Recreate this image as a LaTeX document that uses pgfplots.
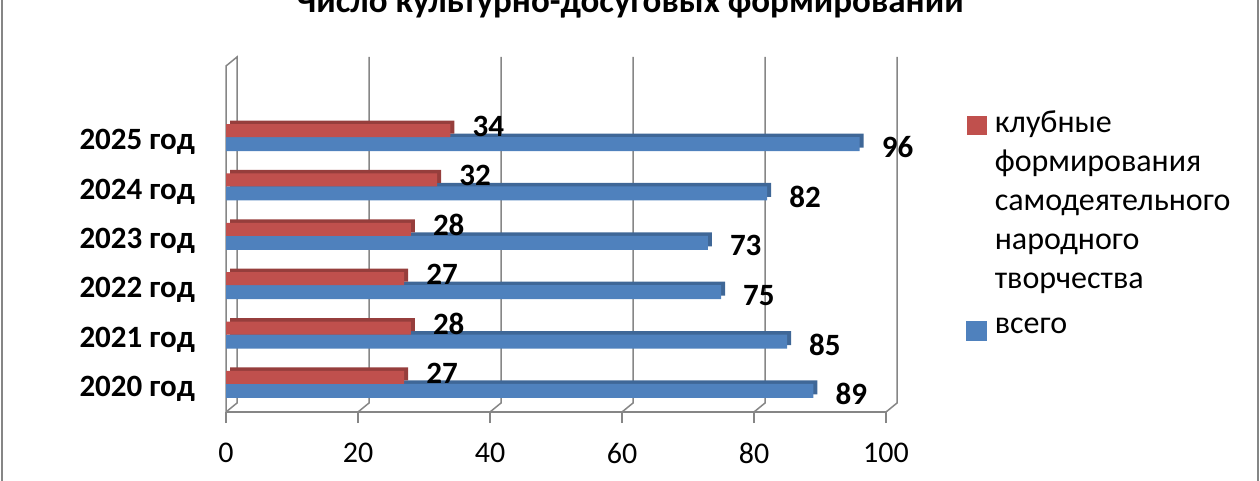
\documentclass[border=0pt]{standalone}
\usepackage{pgfplots}
\pgfplotsset{compat=1.18}
\usepackage{fontspec}
\setmainfont{Carlito}
\definecolor{xred}{HTML}{C0504D}
\definecolor{xblue}{HTML}{4F81BD}
\definecolor{xgrid}{HTML}{868686}
\begin{document}
\begin{tikzpicture}[x=1pt,y=1pt]
\path[use as bounding box] (0,0) rectangle (1260,480);
\draw[xgrid, line width=2pt] (1.5,-5) -- (1.5,485);
\draw[xgrid, line width=2pt] (1257.5,-5) -- (1257.5,485);
\node[font=\fontsize{35}{40}\selectfont\bfseries, anchor=base] at (630,467) {Число культурно-досуговых формирований};
\begin{axis}[
  at={(226pt,68pt)}, anchor=south west,
  width=660pt, height=346pt, scale only axis,
  xmin=0, xmax=100, ymin=-0.466, ymax=6.54,
  xtick={0,20,...,100},
  ytick={0,1,2,3,4,5},
  yticklabels={2020 год,2021 год,2022 год,2023 год,2024 год,2025 год},
  axis line style={draw=none},
  tick pos=left, tick align=outside, major tick length=11pt,
  x tick style={xgrid, line width=1.5pt},
  y tick style={draw=none},
  /pgf/number format/assume math mode=true,
  xticklabel style={font=\fontsize{30}{36}\selectfont, inner sep=0pt, yshift=-20pt},
  yticklabel style={font=\fontsize{31}{36}\selectfont\bfseries, inner sep=0pt, xshift=-20pt},
  clip=false,
  legend style={at={(axis description cs:1.117,0.890)}, anchor=north west, draw=none, fill=none,
    font=\fontsize{32}{39}\selectfont, legend cell align=left, row sep=0pt,
    nodes={inner ysep=0pt, text height=26pt, text depth=13pt},
    /tikz/every odd column/.append style={column sep=6pt}},
]
\draw[xgrid, line width=1.5pt] (axis cs:0,-0.466) -- (axis cs:100,-0.466);
\draw[xgrid, line width=1.5pt] (axis cs:0,-0.466) -- (axis cs:0,6.54) -- ++(11pt,9pt) -- ([xshift=11pt,yshift=9pt]axis cs:0,-0.466) -- cycle;
\pgfplotsinvokeforeach{20,40,60,80,100}{
  \draw[xgrid, line width=1.5pt] (axis cs:#1,-0.466) -- ++(11pt,9pt) -- ([xshift=11pt,yshift=9pt]axis cs:#1,6.54);
}
% blue: depth faces, then front
\addplot[xbar, forget plot, fill=xblue!80!black, draw=none, bar width=14pt, bar shift=-2pt, xshift=4pt, yshift=3.5pt]
  coordinates {(89,0) (85,1) (75,2) (73,3) (82,4) (96,5)};
\addplot[xbar, forget plot, fill=xblue, draw=none, bar width=14pt, bar shift=-2pt,
  nodes near coords, every node near coord/.append style={font=\fontsize{31}{36}\selectfont\bfseries, anchor=west, inner sep=0pt, xshift=22pt, yshift=-5pt}]
  coordinates {(89,0) (85,1) (75,2) (73,3) (82,4) (96,5)};
% red: depth faces, then front
\addplot[xbar, forget plot, fill=xred!78!black, draw=none, bar width=13pt, bar shift=11.5pt, xshift=4pt, yshift=3.5pt]
  coordinates {(27,0) (28,1) (27,2) (28,3) (32,4) (34,5)};
\addplot[xbar, fill=xred, draw=none, bar width=13pt, bar shift=11.5pt,
  legend image code/.code={\fill[xred] (0pt,-9.5pt) rectangle (20pt,9.5pt);},
  nodes near coords, every node near coord/.append style={font=\fontsize{31}{36}\selectfont\bfseries, anchor=west, inner sep=0pt, xshift=22pt, yshift=16pt}]
  coordinates {(27,0) (28,1) (27,2) (28,3) (32,4) (34,5)};
\addlegendentry{клубные}
\addlegendimage{empty legend}\addlegendentry{формирования}
\addlegendimage{empty legend}\addlegendentry{самодеятельного}
\addlegendimage{empty legend}\addlegendentry{народного}
\addlegendimage{empty legend}\addlegendentry{творчества}
\addlegendimage{legend image code/.code={\fill[xblue] (0pt,-19.5pt) rectangle (20pt,-0.5pt);}}
\addlegendentry{\raisebox{-6pt}{всего}}
\end{axis}
\end{tikzpicture}
\end{document}
